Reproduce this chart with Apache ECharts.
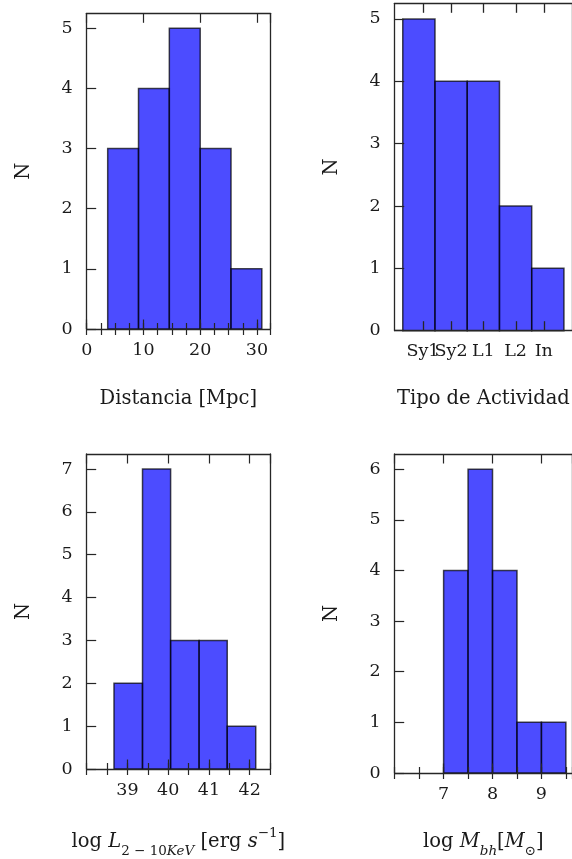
<!DOCTYPE html>
<html>
<head>
<meta charset="utf-8">
<script src="https://cdn.jsdelivr.net/npm/echarts@6/dist/echarts.min.js"></script>
<style>
  html, body { margin: 0; padding: 0; background: #fff; }
  #chart { width: 572px; height: 859px; }
</style>
</head>
<body>
<div id="chart"></div>
<script>
// Distance distribution (Mpc): bin edges and counts
const distEdges = [3.70, 9.13, 14.56, 20.00, 25.43, 30.86];
const distCounts = [3, 4, 5, 3, 1];

// Activity type distribution
const typeEdges = [1.0, 1.8, 2.6, 3.4, 4.2, 5.0];
const typeCounts = [5, 4, 4, 2, 1];
const typeTicks = [1.5, 2.2, 3.0, 3.8, 4.5];
const typeLabels = ['Sy1', 'Sy2', 'L1', 'L2', 'In'];

// Hard X-ray luminosity distribution (log erg/s)
const lumEdges = [38.67, 39.37, 40.06, 40.76, 41.45, 42.15];
const lumCounts = [2, 7, 3, 3, 1];

// Black hole mass distribution (log Msun)
const massEdges = [7.0, 7.5, 8.0, 8.5, 9.0, 9.5];
const massCounts = [4, 6, 4, 1, 1];

const FONT = 'DejaVu Serif';
const INK = '#1a1a1a';
const FRAME = '#262626';
const TICK_FS = 17.5;
const TITLE_FS = 19.5;
const MAJOR_LEN = 9.5;
const MINOR_LEN = 6;

const rich = {
  n: { fontFamily: FONT, fontSize: TITLE_FS, color: INK, lineHeight: 32 },
  i: { fontFamily: FONT, fontSize: TITLE_FS, fontStyle: 'italic', color: INK, lineHeight: 32 },
  sub: { fontFamily: FONT, fontSize: 13.5, color: INK, lineHeight: 20, verticalAlign: 'bottom' },
  subi: { fontFamily: FONT, fontSize: 13.5, fontStyle: 'italic', color: INK, lineHeight: 20, verticalAlign: 'bottom' },
  sup: { fontFamily: FONT, fontSize: 13.5, color: INK, lineHeight: 15, verticalAlign: 'top' }
};

const panels = [
  {
    grid: { left: 86.7, top: 13.3, width: 183.3, height: 315.7 },
    x: { min: 0, max: 32.3, interval: 10, minor: 2.5 },
    yMax: 5.25,
    edges: distEdges, counts: distCounts,
    xName: 'Distancia [Mpc]', xNameGap: 60
  },
  {
    grid: { left: 394.7, top: 3.3, width: 183.6, height: 327.4 },
    x: { min: 0.8, max: 5.2, ticks: typeTicks, labels: typeLabels },
    yMax: 5.25,
    edges: typeEdges, counts: typeCounts,
    xName: 'Tipo de Actividad', xNameGap: 58
  },
  {
    grid: { left: 86.7, top: 454, width: 183.3, height: 318.3 },
    x: { min: 38, max: 42.5, interval: 1, minor: 0.5 },
    yMax: 7.35,
    edges: lumEdges, counts: lumCounts,
    xName: '{n|log }{i|L}{sub|2 − 10}{subi|KeV}{n| [erg }{i|s}{sup|−1}{n|]}', xNameGap: 57
  },
  {
    grid: { left: 394.7, top: 454, width: 183.6, height: 322.7 },
    x: { min: 6, max: 9.625, interval: 1, minor: 0.5 },
    yMax: 6.3,
    edges: massEdges, counts: massCounts,
    xName: '{n|log }{i|M}{subi|bh}{n|[}{i|M}{sub|⊙}{n|]}', xNameGap: 53
  }
];

const grids = [], xAxes = [], yAxes = [], series = [];

function tickStyle(len) {
  return { show: true, inside: true, length: len, lineStyle: { color: FRAME, width: 1.2 } };
}
function frameLine() {
  return { show: true, onZero: false, lineStyle: { color: FRAME, width: 1.3 } };
}
function typeLabelAxis(gi, base, values) {
  // labels for the activity types at fixed positions along the axis
  return Object.assign({}, base, {
    position: 'bottom', z: 5,
    axisLine: { show: false }, axisTick: { show: false },
    axisLabel: {
      show: true, fontFamily: FONT, fontSize: TICK_FS, color: INK, margin: 12,
      customValues: values, showMinLabel: true, showMaxLabel: true,
      formatter: v => {
        const k = typeTicks.findIndex(t => Math.abs(t - v) < 1e-6);
        return k >= 0 ? typeLabels[k] : '';
      }
    }
  });
}

panels.forEach((p, gi) => {
  grids.push(Object.assign({ containLabel: false }, p.grid));
  const base = { gridIndex: gi, type: 'value', min: p.x.min, max: p.x.max, splitLine: { show: false } };
  if (p.x.interval) base.interval = p.x.interval;

  const isTypes = !!p.x.ticks;
  const majorTick = isTypes ? { show: false } : tickStyle(MAJOR_LEN);
  const label = isTypes ? { show: false } : {
    show: true, fontFamily: FONT, fontSize: TICK_FS, color: INK, margin: 12,
    showMinLabel: p.x.min === 0, showMaxLabel: false
  };

  // bottom axis: frame line, major ticks, labels, title
  const bottomIdx = xAxes.length;
  xAxes.push(Object.assign({}, base, {
    position: 'bottom', z: 5,
    axisLine: frameLine(), axisTick: majorTick, axisLabel: label,
    name: p.xName, nameLocation: 'middle', nameGap: p.xNameGap,
    nameTextStyle: { fontFamily: FONT, fontSize: TITLE_FS, color: INK, rich: rich }
  }));
  // top axis: frame line and major ticks
  xAxes.push(Object.assign({}, base, {
    position: 'top', z: 5,
    axisLine: frameLine(), axisTick: Object.assign({}, majorTick), axisLabel: { show: false }
  }));
  if (p.x.minor) {
    ['bottom', 'top'].forEach(pos => {
      xAxes.push(Object.assign({}, base, {
        position: pos, interval: p.x.minor, z: 5,
        axisLine: { show: false }, axisTick: tickStyle(MINOR_LEN), axisLabel: { show: false }
      }));
    });
  }
  if (isTypes) {
    // split into two label sets so the touching "Sy1" / "Sy2" labels both stay visible
    xAxes.push(typeLabelAxis(gi, base, typeTicks.filter((t, k) => k !== 1)));
    xAxes.push(typeLabelAxis(gi, base, [typeTicks[1]]));
  }

  const leftIdx = yAxes.length;
  yAxes.push({
    gridIndex: gi, type: 'value', position: 'left', min: 0, max: p.yMax, interval: 1, z: 5,
    splitLine: { show: false },
    axisLine: frameLine(),
    axisTick: tickStyle(MAJOR_LEN),
    axisLabel: { show: true, fontFamily: FONT, fontSize: TICK_FS, color: INK, margin: 14, showMaxLabel: false },
    name: 'N', nameLocation: 'middle', nameGap: 53, nameRotate: 90,
    nameTextStyle: { fontFamily: FONT, fontSize: TITLE_FS, color: INK }
  });
  yAxes.push({
    gridIndex: gi, type: 'value', position: 'right', min: 0, max: p.yMax, z: 5,
    splitLine: { show: false },
    axisLine: frameLine(),
    axisTick: { show: false }, axisLabel: { show: false }
  });

  series.push({
    type: 'custom',
    xAxisIndex: bottomIdx, yAxisIndex: leftIdx,
    encode: { x: [0, 1], y: 2 },
    data: p.counts.map((c, i) => [p.edges[i], p.edges[i + 1], c]),
    renderItem: (params, api) => {
      const a = api.coord([api.value(0), api.value(2)]);
      const b = api.coord([api.value(1), 0]);
      return {
        type: 'rect',
        shape: { x: a[0], y: a[1], width: b[0] - a[0], height: b[1] - a[1] },
        style: { fill: 'rgba(0,0,255,0.7)', stroke: 'rgba(0,0,0,0.7)', lineWidth: 1.5 }
      };
    }
  });

  if (isTypes) {
    // inward tick marks on the bottom and top frame at the activity-type positions
    series.push({
      type: 'custom',
      xAxisIndex: bottomIdx, yAxisIndex: leftIdx,
      encode: { x: 0, y: 1 },
      z: 6,
      data: p.x.ticks.map(t => [t, 1]),
      renderItem: (params, api) => {
        const lo = api.coord([api.value(0), 0]);
        const hi = api.coord([api.value(0), p.yMax]);
        const x = Math.round(lo[0]) + 0.5;
        const st = { stroke: FRAME, lineWidth: 1.3 };
        return {
          type: 'group',
          children: [
            { type: 'line', shape: { x1: x, y1: lo[1], x2: x, y2: lo[1] - MAJOR_LEN }, style: st },
            { type: 'line', shape: { x1: x, y1: hi[1], x2: x, y2: hi[1] + MAJOR_LEN }, style: st }
          ]
        };
      }
    });
  }
});

const chart = echarts.init(document.getElementById('chart'), null, { renderer: 'canvas' });
chart.setOption({
  animation: false,
  backgroundColor: '#ffffff',
  grid: grids, xAxis: xAxes, yAxis: yAxes, series: series
});
</script>
</body>
</html>
